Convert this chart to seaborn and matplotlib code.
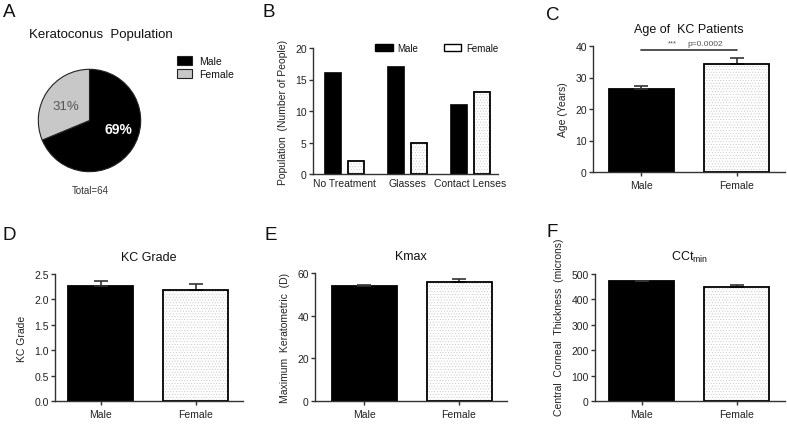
import numpy as np
import pandas as pd
import matplotlib
matplotlib.use("Agg")
import matplotlib.pyplot as plt
import seaborn as sns
from matplotlib.patches import Rectangle, Patch

# ---------------- data ----------------
pie_labels = ["Male", "Female"]
pie_counts = [44, 20]
pie_total_label = "Total=64"

treatments = ["No Treatment", "Glasses", "Contact Lenses"]
male_counts = [16, 17, 11]
female_counts = [2, 5, 13]

sexes = ["Male", "Female"]
age_mean = [26.4, 34.4]
age_sem = [0.9, 1.7]
grade_mean = [2.27, 2.18]
grade_sem = [0.085, 0.12]
kmax_mean = [53.7, 55.6]
kmax_sem = [0.6, 1.4]
cct_mean = [471, 447]
cct_sem = [3, 9]
age_sig_level = 38.6

# ---------------- style ----------------
sns.set_theme(style="ticks")
plt.rcParams["font.family"] = ["Liberation Sans", "DejaVu Sans"]
plt.rcParams.update({
    "mathtext.fontset": "custom",
    "mathtext.rm": "Liberation Sans",
    "mathtext.it": "Liberation Sans",
    "mathtext.bf": "Liberation Sans:bold",
    "axes.edgecolor": "#333333",
    "axes.linewidth": 1.0,
    "xtick.color": "#333333",
    "ytick.color": "#333333",
    "xtick.labelcolor": "#222222",
    "ytick.labelcolor": "#222222",
    "text.color": "#111111",
    "axes.labelcolor": "#222222",
    "xtick.major.size": 3,
    "ytick.major.size": 3,
    "xtick.major.width": 1.0,
    "ytick.major.width": 1.0,
    "xtick.labelsize": 7.5,
    "ytick.labelsize": 7.5,
    "hatch.linewidth": 0.35,
})

W, H = 787, 435
fig = plt.figure(figsize=(W / 100, H / 100), dpi=100)


def axpx(x0, x1, ytop, ybot):
    return fig.add_axes([x0 / W, 1 - ybot / H, (x1 - x0) / W, (ybot - ytop) / H])


def stipple(ax):
    for p in list(ax.patches):
        fc = p.get_facecolor()
        if fc[0] > 0.9 and fc[1] > 0.9 and fc[2] > 0.9 and p.get_height() > 0:
            p.set_hatch("......")
            p.set_edgecolor("#c4c4c4")
            p.set_linewidth(0)
            ax.add_patch(Rectangle(p.get_xy(), p.get_width(), p.get_height(),
                                   fill=False, edgecolor="black", linewidth=1.3,
                                   zorder=p.get_zorder() + 0.1))


def style_axes(ax):
    sns.despine(ax=ax)
    ax.tick_params(axis="both", direction="out", pad=1.5)


# ---------------- A: pie ----------------
axA = axpx(25.5, 153.5, 57.5, 185.5)
wedges, texts, autotexts = axA.pie(
    pie_counts, colors=["black", "#c8c8c8"], startangle=90, counterclock=False,
    autopct=lambda p: f"{p:.0f}%", pctdistance=0.56,
    wedgeprops=dict(edgecolor="#222222", linewidth=0.8))
autotexts[0].set_color("white")
autotexts[0].set_fontsize(10)
autotexts[0].set_fontweight("bold")
autotexts[0].set_position((0.57, -0.16))
autotexts[1].set_color("#555555")
autotexts[1].set_fontsize(9.5)
autotexts[1].set_position((-0.47, 0.29))
axA.set_aspect("equal")
fig.text(100.5 / W, 1 - 35 / H, "Keratoconus  Population", ha="center", va="center", fontsize=9.5)
fig.text(90 / W, 1 - 191 / H, pie_total_label, ha="center", va="center", fontsize=7, color="#333333")
fig.legend(wedges, pie_labels, loc="upper left", bbox_to_anchor=(177 / W, 1 - 57 / H),
           frameon=False, fontsize=7.5, handlelength=1.4, handleheight=0.9,
           labelspacing=0.3, handletextpad=0.7, borderaxespad=0, borderpad=0)

# ---------------- B: grouped bars ----------------
dfB = pd.DataFrame({
    "Treatment": treatments * 2,
    "Sex": ["Male"] * len(treatments) + ["Female"] * len(treatments),
    "Count": male_counts + female_counts,
})
axB = axpx(313, 498, 49, 175)
sns.barplot(data=dfB, x="Treatment", y="Count", hue="Sex",
            palette={"Male": "black", "Female": "white"}, width=0.73, gap=0.3,
            edgecolor="black", linewidth=1.2, errorbar=None, legend=False, ax=axB)
stipple(axB)
axB.set_ylim(0, 20)
axB.set_yticks([0, 5, 10, 15, 20])
axB.set_xlim(-0.5, 2.44)
axB.set_xlabel("")
axB.set_ylabel("Population  (Number of People)", fontsize=7.5, labelpad=5)
style_axes(axB)
axB.tick_params(axis="x", length=0, pad=3)
b_handles = [Patch(facecolor="black", edgecolor="black", linewidth=1.0),
             Patch(facecolor="white", edgecolor="black", linewidth=1.0)]
axB.legend(b_handles, sexes, loc="upper left",
           bbox_to_anchor=((375 - 313) / 185, 1.04), ncol=2,
           frameon=False, fontsize=7, handlelength=1.8, handleheight=0.75,
           columnspacing=2.6, handletextpad=0.5, borderaxespad=0, borderpad=0)


# ---------------- C-F: two-bar panels ----------------
def bar_panel(ax, means, sems, ylim, yticks, ylabel, title, xlim, fmt=None):
    sns.barplot(x=sexes, y=means, hue=sexes, palette=["black", "white"],
                edgecolor="black", linewidth=1.3, width=0.684, legend=False, ax=ax)
    ax.errorbar(x=np.arange(len(sexes)), y=means, yerr=[np.zeros(len(sems)), sems],
                fmt="none", ecolor="#333333", elinewidth=1.2, capsize=5, capthick=1.2,
                zorder=1)
    stipple(ax)
    ax.set_ylim(*ylim)
    ax.set_yticks(yticks)
    if fmt:
        ax.set_yticklabels([fmt.format(t) for t in yticks])
    ax.set_xlim(*xlim)
    ax.set_ylabel(ylabel, fontsize=7.5, labelpad=5)
    ax.set_title(title, fontsize=9, pad=10)
    style_axes(ax)
    ax.tick_params(axis="x", pad=3)


axC = axpx(593, 785, 47, 173)
bar_panel(axC, age_mean, age_sem, (0, 40), [0, 10, 20, 30, 40], "Age (Years)",
          "Age of  KC Patients", (-0.51, 1.51))
axC.plot([0, 1], [age_sig_level, age_sig_level], color="#333333", lw=1.2, clip_on=False)
axC.text(0.33, age_sig_level + 1.2, "***", ha="center", va="bottom", fontsize=5.5, color="#555555")
axC.text(0.67, age_sig_level + 1.2, "p=0.0002", ha="center", va="bottom", fontsize=6, color="#555555")

axD = axpx(55, 243, 275, 402)
bar_panel(axD, grade_mean, grade_sem, (0, 2.5), [0, 0.5, 1.0, 1.5, 2.0, 2.5], "KC Grade",
          "KC Grade", (-0.484, 1.495), fmt="{:.1f}")

axE = axpx(315, 507, 274, 402)
bar_panel(axE, kmax_mean, kmax_sem, (0, 60), [0, 20, 40, 60], "Maximum  Keratometric  (D)",
          "Kmax", (-0.516, 1.505))

axF = axpx(595, 785, 275, 402)
bar_panel(axF, cct_mean, cct_sem, (0, 500), [0, 100, 200, 300, 400, 500],
          "Central  Corneal  Thickness  (microns)", r"CCt$_{\mathrm{min}}$", (-0.49, 1.51))
axF.yaxis.label.set_y(0.59)

# ---------------- panel letters ----------------
for lbl, x, y in [("A", 3, 4), ("B", 262, 4), ("C", 546, 7), ("D", 3, 227), ("E", 264, 227), ("F", 546, 224)]:
    fig.text(x / W, 1 - y / H, lbl, ha="left", va="top", fontsize=13.5)

fig.savefig("out.png", dpi=100)
